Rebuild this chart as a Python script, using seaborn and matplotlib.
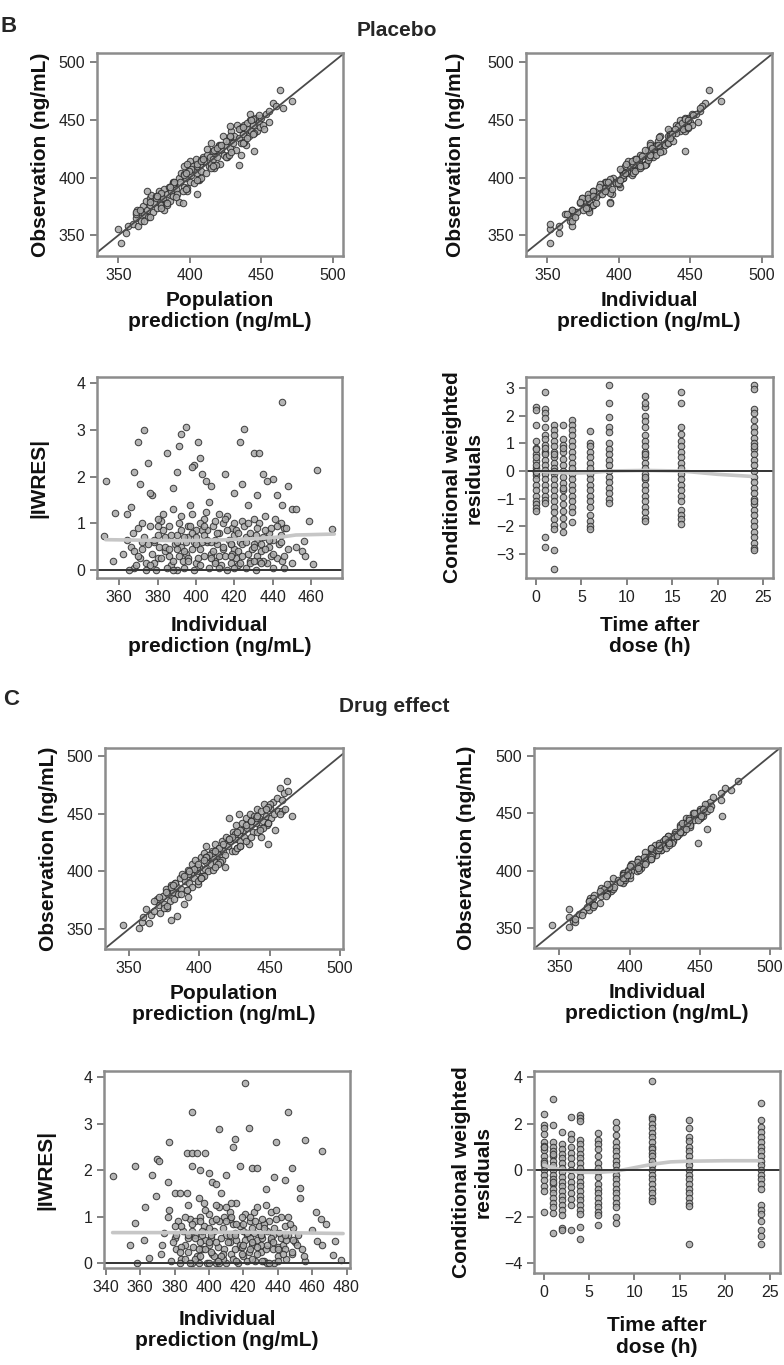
import pandas as pd
import numpy as np
import matplotlib
matplotlib.use("Agg")
import matplotlib.pyplot as plt
import seaborn as sns

# ---------------- Placebo: observation vs predictions ----------------
pl_obs = [355, 343, 352, 358, 360, 365, 372, 358, 370, 362,
          375, 368, 380, 372, 366, 382, 376, 385, 370, 378,
          384, 374, 388, 380, 376, 386, 382, 390, 378, 386,
          392, 380, 388, 396, 384, 394, 390, 386, 379, 400,
          396, 404, 378, 392, 410, 400, 388, 406, 396, 414,
          402, 410, 395, 416, 404, 410, 398, 412, 406, 418,
          414, 404, 420, 410, 418, 412, 430, 416, 408, 424,
          418, 428, 412, 424, 436, 420, 428, 418, 432, 426,
          440, 430, 436, 424, 446, 411, 434, 442, 430, 438,
          446, 428, 442, 436, 450, 440, 446, 423, 452, 440,
          448, 444, 452, 446, 442, 455, 458, 465, 462, 476,
          460, 466, 445, 425, 412, 372, 388, 455, 420, 386,
          362, 368, 374, 379, 383, 387, 391, 395, 399, 403,
          407, 411, 415, 419, 423, 427, 431, 435, 439, 443,
          447, 451, 370, 376, 382, 388, 394, 400, 406, 412,
          418, 424, 430, 436, 442, 448, 454, 366, 372, 378,
          384, 390, 396, 402, 408, 414, 420, 426, 432, 438,
          444, 450, 392, 398, 404, 410, 416, 422, 428, 434]
pl_pred = [350, 352, 355, 357, 360, 362, 363, 364, 365, 366,
           367, 368, 369, 370, 371, 372, 372, 373, 374, 375,
           376, 377, 378, 379, 380, 380, 381, 382, 383, 384,
           385, 386, 387, 388, 388, 389, 390, 391, 392, 392,
           393, 394, 395, 396, 396, 397, 398, 399, 400, 400,
           401, 402, 403, 404, 405, 405, 406, 407, 408, 409,
           410, 411, 412, 413, 414, 415, 415, 416, 417, 418,
           419, 420, 421, 422, 423, 424, 425, 426, 427, 428,
           429, 430, 431, 432, 433, 434, 434, 435, 436, 437,
           438, 439, 440, 441, 442, 443, 444, 445, 446, 447,
           448, 449, 450, 451, 452, 453, 455, 458, 460, 463,
           465, 471, 428, 412, 398, 382, 370, 442, 436, 405,
           368, 362, 380, 372, 390, 380, 398, 388, 406, 396,
           401, 418, 408, 426, 416, 420, 438, 428, 445, 436,
           440, 444, 362, 384, 376, 395, 388, 408, 399, 405,
           425, 417, 437, 428, 434, 455, 448, 372, 365, 384,
           377, 397, 389, 396, 415, 408, 427, 419, 425, 444,
           437, 443, 386, 405, 397, 416, 409, 429, 422, 440]
pl_ipred = [352, 352, 358, 358, 352, 367, 367, 367, 369, 366,
            379, 362, 377, 379, 366, 374, 378, 380, 379, 377,
            383, 378, 382, 377, 382, 386, 374, 392, 373, 395,
            401, 379, 392, 390, 381, 400, 390, 378, 394, 396,
            391, 406, 394, 392, 404, 403, 394, 402, 397, 406,
            409, 408, 398, 411, 404, 416, 400, 405, 410, 415,
            414, 410, 415, 413, 420, 419, 422, 414, 413, 420,
            422, 422, 419, 425, 429, 423, 426, 424, 427, 428,
            436, 433, 435, 429, 440, 418, 436, 434, 434, 436,
            447, 432, 447, 434, 443, 443, 448, 446, 448, 446,
            450, 441, 446, 451, 445, 451, 457, 460, 458, 463,
            457, 471, 441, 429, 414, 375, 382, 454, 426, 388,
            367, 364, 377, 373, 384, 394, 389, 399, 394, 403,
            401, 413, 420, 416, 431, 426, 434, 428, 440, 448,
            444, 446, 371, 382, 378, 390, 387, 403, 411, 410,
            421, 418, 434, 436, 439, 455, 452, 369, 367, 384,
            382, 395, 392, 403, 415, 409, 422, 423, 438, 437,
            448, 448, 386, 401, 404, 415, 412, 429, 427, 436]

# ---------------- Placebo: |IWRES| vs individual prediction ----------------
pl_iw_x = [353, 352, 358, 357, 368, 370, 373, 375, 377, 376, 371, 395, 392, 391, 385, 401, 402,
           399, 398, 403, 423, 425, 430, 433, 445, 463, 459, 461, 471, 435, 415, 448, 450, 452,
           440, 442, 445, 456, 455, 388, 390, 405, 408, 420, 424, 427, 432, 437, 366, 364,
           362, 366, 370, 374, 378, 382, 386, 390, 394, 398, 402, 406, 410, 414, 418, 422, 426,
           430, 434, 438, 442, 446, 450,
           364, 368, 372, 376, 380, 384, 388, 392, 396, 400, 404, 408, 412, 416, 420, 424, 428,
           432, 436, 440, 444, 448,
           367, 371, 375, 379, 383, 387, 391, 395, 399, 403, 407, 411, 415, 419, 423, 427, 431,
           435, 439, 443, 447,
           369, 373, 377, 381, 385, 389, 393, 397, 401, 405, 409, 413, 417, 421, 425, 429, 433,
           437, 441, 445,
           365, 372, 380, 386, 392, 398, 404, 410, 416, 422, 428, 434, 440, 446, 452, 457,
           378, 384, 390, 396, 402, 408, 414, 420, 426, 432, 438, 444, 394, 400, 406, 412, 418,
           424, 430, 436,
           383, 387, 391, 395, 399, 403, 407, 411, 415, 419, 423, 427, 431, 435, 439, 388, 397,
           409, 421, 433,
           368, 372, 376, 380, 384, 388, 392, 396, 400, 404, 408, 412, 416, 420, 424, 428, 432,
           436, 440, 444, 370, 378, 386, 394, 402, 410, 418, 426, 434, 442, 374, 382, 390, 398,
           406, 414, 422, 430, 438, 446, 380, 390, 400, 410, 420, 430, 396, 404, 412, 418]
pl_iw_y = [1.9, 0.72, 1.22, 0.2, 2.1, 2.75, 3.0, 2.3, 1.6, 1.65, 1.85, 3.05, 2.9, 2.65, 2.5, 2.75, 2.4,
           2.25, 2.2, 2.05, 2.75, 3.02, 2.5, 2.5, 3.6, 2.15, 1.05, 0.12, 0.87, 2.05, 2.05, 1.8, 1.3, 1.3,
           1.95, 1.6, 1.4, 0.62, 0.4, 1.75, 2.1, 1.9, 1.8, 1.65, 1.85, 1.4, 1.6, 1.9, 1.35, 1.2,
           0.35, 0.5, 0.9, 0.15, 0.6, 1.05, 0.3, 0.75, 0.05, 1.2, 0.45, 0.85, 0.2, 1.0, 0.55, 0.1, 0.7,
           1.1, 0.4, 0.8, 0.25, 0.9, 0.15,
           0.65, 0.05, 0.45, 0.95, 0.25, 0.7, 1.3, 0.5, 0.95, 0.15, 1.1, 0.35, 0.8, 0.0, 0.45, 1.05, 0.2,
           0.6, 1.15, 0.05, 0.75, 0.45,
           0.8, 0.25, 0.55, 0.0, 0.85, 0.1, 1.0, 0.35, 0.6, 0.85, 0.05, 0.55, 0.3, 0.9, 0.6, 0.35, 0.0,
           0.7, 0.3, 0.55, 0.9,
           0.1, 0.7, 0.35, 0.5, 0.05, 0.55, 0.2, 1.4, 0.25, 1.25, 0.95, 0.1, 0.65, 0.25, 0.95, 0.45, 1.0,
           0.15, 1.1, 0.2,
           0.0, 1.0, 0.75, 0.95, 1.15, 0.45, 0.3, 0.65, 1.15, 0.4, 0.8, 0.55, 0.65, 0.05, 0.5, 0.3,
           0.15, 0.4, 0.0, 0.7, 1.0, 0.25, 0.45, 0.75, 0.05, 0.3, 0.5, 1.0, 0.4, 0.85, 0.6, 1.2, 0.15,
           0.3, 0.55, 0.85,
           1.2, 0.75, 0.3, 0.6, 0.0, 0.6, 1.45, 0.8, 1.1, 0.35, 0.15, 1.0, 0.75, 0.2, 0.9, 0.2, 0.95,
           0.4, 0.85, 0.2,
           0.4, 0.6, 0.1, 0.95, 0.5, 0.0, 0.85, 0.25, 0.55, 0.75, 0.6, 0.3, 0.85, 0.05, 0.55, 0.15, 0.9,
           0.45, 0.35, 0.6, 0.3, 0.65, 0.45, 0.7, 0.1, 1.05, 0.3, 0.6, 0.15, 0.95, 0.0, 0.25, 0.45, 0.8,
           0.65, 0.5, 0.8, 0.2, 0.65, 0.3, 1.1, 0.6, 0.7, 0.15, 1.0, 0.5, 0.2, 0.95, 0.05, 0.55]
pl_iw_smooth_x = [353, 370, 390, 410, 430, 445, 452, 472]
pl_iw_smooth_y = [0.65, 0.64, 0.63, 0.64, 0.67, 0.71, 0.75, 0.77]

# ---------------- Placebo: CWRES vs time after dose ----------------
pl_cw_0h = [2.3, 2.2, 1.65, 1.1, 0.85, 0.6, 0.35, 0.1, 0.0, -0.15, -0.3, -0.5, -0.7, -0.9, -1.1,
            -1.2, -1.35, -1.45, 0.2, -0.05, 0.5, 0.8]
pl_cw_1h = [2.85, 2.25, 2.1, 1.9, 1.3, 1.15, 0.95, 0.7, 0.6, 0.4, 0.2, 0.05, -0.1, -0.3, -0.5,
            -0.7, -0.9, -1.05, -1.15, -2.4, -2.75, 0.85, 1.6]
pl_cw_2h = [1.65, 1.5, 1.3, 1.1, 0.9, 0.7, 0.5, 0.3, 0.1, -0.1, -0.3, -0.5, -0.7, -0.9, -1.1,
            -1.3, -1.5, -1.75, -1.95, -2.1, -2.85, -3.55, 0.0, 0.6]
pl_cw_3h = [1.65, 1.15, 0.95, 0.7, 0.45, 0.2, 0.0, -0.2, -0.45, -0.7, -0.95, -1.2, -1.45, -1.7,
            -1.95, -2.2, 0.85, -0.6]
pl_cw_4h = [1.85, 1.65, 1.5, 1.3, 1.1, 0.9, 0.7, 0.5, 0.3, 0.1, -0.1, -0.3, -0.5, -0.7, -0.9,
            -1.1, -1.3, -1.5, -1.85]
pl_cw_6h = [1.45, 1.0, 0.9, 0.7, 0.5, 0.3, 0.1, -0.1, -0.3, -0.5, -0.7, -0.9, -1.1, -1.3, -1.6,
            -1.8, -2.0, -2.1]
pl_cw_8h = [3.1, 2.45, 1.95, 1.6, 1.4, 1.0, 0.8, 0.6, 0.4, 0.2, 0.0, -0.2, -0.4, -0.6, -0.8,
            -1.0, -1.15]
pl_cw_12h = [2.7, 2.3, 2.0, 1.8, 1.6, 1.3, 1.1, 0.9, 0.7, 0.5, 0.3, 0.1, -0.1, -0.3, -0.5, -0.7,
             -0.9, -1.1, -1.3, -1.5, -1.7, -1.8, 2.45, 0.6, -0.2]
pl_cw_16h = [2.85, 2.45, 1.6, 1.35, 1.1, 0.9, 0.7, 0.5, 0.3, 0.1, -0.1, -0.3, -0.5, -0.7, -0.9,
             -1.1, -1.4, -1.6, -1.75, -1.9]
pl_cw_24h = [3.1, 2.95, 2.25, 2.1, 1.85, 1.6, 1.4, 1.2, 1.0, 0.8, 0.6, 0.4, 0.2, 0.0, -0.2, -0.4,
             -0.6, -0.8, -1.0, -1.2, -1.4, -1.6, -1.8, -2.0, -2.2, -2.4, -2.6, -2.8, -2.85, 0.9, -1.1]
pl_cw_smooth_x = [0, 2, 4, 6, 8, 12, 16, 20, 24]
pl_cw_smooth_y = [0.0, -0.05, -0.08, -0.06, 0.0, 0.02, 0.0, -0.12, -0.2]

# ---------------- Drug effect: observation vs predictions ----------------
dr_obs = [353, 351, 356, 360, 367, 355, 362, 366, 376, 371,
          364, 379, 372, 385, 368, 380, 374, 358, 388, 382,
          376, 390, 361, 386, 380, 394, 385, 398, 372, 392,
          384, 401, 390, 398, 386, 406, 394, 410, 400, 389,
          404, 412, 396, 416, 402, 408, 422, 400, 412, 406,
          418, 401, 412, 424, 408, 416, 420, 410, 426, 418,
          414, 430, 422, 446, 426, 418, 434, 428, 440, 420,
          432, 426, 442, 436, 430, 446, 438, 424, 450, 440,
          434, 448, 442, 454, 446, 438, 452, 444, 458, 448,
          440, 424, 455, 446, 460, 450, 436, 464, 452, 472,
          462, 468, 478, 470, 448, 404, 396, 378, 450, 430,
          368, 374, 380, 386, 392, 398, 404, 410, 416, 422,
          428, 434, 440, 446, 452, 458, 378, 384, 390, 396,
          402, 408, 414, 420, 426, 432, 438, 444, 450, 456,
          388, 394, 400, 406, 412, 418, 424, 430, 436, 442,
          448, 454, 370, 382, 394, 406, 418, 430, 442, 454,
          396, 404, 412, 420, 428, 436, 444, 410, 422, 434]
dr_pred = [346, 357, 359, 360, 362, 364, 366, 368, 370, 371,
           372, 374, 375, 376, 377, 378, 379, 380, 380, 381,
           382, 383, 384, 384, 385, 386, 387, 388, 389, 390,
           391, 392, 393, 394, 395, 395, 396, 397, 398, 399,
           400, 401, 402, 403, 404, 405, 405, 406, 407, 408,
           409, 410, 410, 411, 412, 413, 414, 415, 416, 417,
           418, 419, 420, 421, 422, 423, 424, 425, 426, 427,
           428, 429, 430, 431, 432, 433, 434, 435, 436, 437,
           438, 439, 440, 441, 442, 443, 444, 445, 446, 447,
           448, 449, 450, 451, 452, 453, 454, 455, 456, 457,
           459, 460, 462, 463, 466, 418, 402, 392, 428, 444,
           375, 368, 387, 380, 399, 392, 398, 416, 409, 429,
           421, 441, 433, 440, 459, 450, 371, 391, 383, 403,
           396, 415, 407, 414, 433, 425, 445, 437, 457, 449,
           381, 401, 393, 413, 405, 425, 417, 437, 429, 449,
           441, 461, 377, 376, 401, 399, 411, 423, 449, 447,
           389, 411, 405, 427, 421, 443, 437, 403, 429, 427]
dr_ipred = [345, 357, 360, 357, 357, 361, 364, 371, 372, 372,
            367, 375, 373, 380, 374, 382, 371, 361, 386, 387,
            374, 393, 366, 385, 384, 388, 387, 395, 379, 392,
            388, 399, 395, 398, 389, 401, 400, 406, 401, 395,
            401, 414, 400, 411, 408, 409, 418, 405, 412, 409,
            417, 407, 415, 421, 412, 416, 415, 415, 424, 422,
            419, 427, 423, 440, 428, 422, 432, 431, 436, 426,
            432, 431, 439, 438, 434, 442, 439, 430, 445, 443,
            438, 446, 443, 450, 449, 443, 450, 446, 455, 452,
            443, 449, 453, 450, 457, 452, 455, 459, 455, 468,
            465, 465, 477, 472, 466, 406, 395, 380, 447, 431,
            370, 371, 384, 385, 397, 396, 407, 406, 417, 428,
            425, 436, 439, 450, 450, 454, 383, 382, 393, 395,
            406, 405, 416, 415, 427, 435, 436, 449, 446, 458,
            384, 397, 399, 411, 410, 419, 428, 427, 438, 437,
            451, 452, 375, 379, 395, 402, 420, 434, 441, 457,
            398, 400, 415, 421, 425, 440, 442, 415, 421, 436]

# ---------------- Drug effect: |IWRES| vs individual prediction ----------------
dr_iw_x = [344, 354, 357, 357, 358, 362, 363, 365, 367, 370, 371, 369, 373, 377, 376, 390, 406,
           415, 414, 421, 423, 446, 439, 456, 466, 462, 465, 468, 472, 473, 477, 448, 453, 453,
           460, 463, 466, 387, 390, 393, 398, 390, 380, 383, 395, 402, 410, 418, 425, 428, 433,
           438, 444, 400, 404,
           372, 376, 380, 384, 388, 392, 396, 400, 404, 408, 412, 416, 420, 424, 428, 432, 436,
           440, 444, 448, 452, 456,
           374, 378, 382, 386, 390, 394, 398, 402, 406, 410, 414, 418, 422, 426, 430, 434, 438,
           442, 446, 450, 454,
           377, 381, 385, 389, 393, 397, 401, 405, 409, 413, 417, 421, 425, 429, 433, 437, 441,
           445, 449,
           379, 383, 387, 391, 395, 399, 403, 407, 411, 415, 419, 423, 427, 431, 435, 439, 443, 447,
           384, 388, 392, 396, 400, 404, 408, 412, 416, 420, 424, 428, 432, 436, 440, 444, 388,
           394, 400, 406,
           386, 390, 394, 398, 402, 406, 410, 414, 418, 422, 426, 430, 434, 438, 442, 446, 412,
           418, 424, 430,
           381, 395, 397, 403, 409, 415, 421, 427, 433, 439, 445, 451, 455, 401, 407, 413, 419,
           425, 431, 437,
           380, 384, 388, 392, 396, 400, 404, 408, 412, 416, 420, 424, 428, 432, 436, 440, 444,
           448, 383, 389, 395, 401, 407, 413, 419, 425, 431, 437, 443, 449, 386, 392, 398, 404,
           410, 416, 422, 428, 434, 440, 390, 400, 410, 420, 430, 395, 405, 415, 425, 435]
dr_iw_y = [1.88, 0.4, 0.87, 2.1, 0.0, 0.5, 1.22, 0.12, 1.9, 2.25, 2.2, 1.45, 0.4, 2.6, 1.75, 3.25,
           2.88, 2.68, 2.5, 3.88, 2.9, 3.25, 2.6, 2.65, 2.42, 1.1, 0.95, 0.85, 0.18, 0.47, 0.07, 2.05,
           1.62, 1.4, 0.72, 0.48, 0.4, 2.38, 2.38, 2.38, 2.38, 2.1, 1.5, 1.5, 2.0, 1.75, 1.9, 2.1, 2.05,
           2.05, 1.6, 1.85, 1.8, 1.95, 1.7,
           0.2, 1.0, 0.55, 0.1, 1.25, 0.6, 0.3, 1.05, 0.0, 0.75, 0.45, 1.3, 0.15, 0.9, 0.5, 0.05, 1.1,
           0.35, 0.8, 0.2, 0.6, 0.05,
           0.65, 0.05, 0.9, 0.4, 0.0, 1.4, 0.5, 0.2, 1.2, 0.0, 0.85, 0.35, 0.6, 1.1, 0.25, 0.7, 0.0,
           0.55, 1.0, 0.45, 0.3,
           1.15, 0.3, 0.7, 0.95, 0.15, 0.8, 0.55, 0.35, 1.0, 0.2, 0.0, 1.05, 0.4, 0.8, 1.25, 0.3, 0.65,
           0.1, 0.75,
           0.45, 0.0, 1.5, 0.35, 1.0, 0.0, 0.7, 1.5, 0.45, 0.65, 1.0, 0.25, 0.05, 0.55, 0.9, 1.15, 0.4,
           0.85,
           0.8, 0.25, 0.9, 0.6, 0.4, 1.25, 0.1, 0.95, 0.5, 0.7, 0.3, 1.2, 0.85, 0.5, 0.15, 0.3, 0.55,
           0.0, 0.75, 0.9,
           0.1, 0.7, 0.3, 1.15, 0.9, 0.0, 0.6, 0.1, 0.8, 0.05, 0.65, 0.4, 0.0, 0.75, 1.0, 0.6, 1.1,
           0.4, 1.0, 0.6,
           0.6, 0.45, 1.3, 0.15, 0.3, 0.3, 0.5, 0.9, 0.3, 0.95, 0.5, 0.4, 0.15, 0.25, 0.55, 1.3, 0.2,
           0.75, 0.05, 0.6,
           0.8, 0.35, 0.6, 0.1, 0.7, 0.45, 0.95, 0.2, 0.6, 0.05, 0.85, 0.55, 0.35, 0.75, 0.55, 0.05, 0.6,
           0.25, 0.25, 0.0, 0.9, 0.6, 0.15, 1.0, 0.35, 0.1, 0.95, 0.45, 0.2, 0.5, 1.0, 0.55, 0.3, 0.45,
           1.2, 0.85, 0.65, 0.2, 0.4, 0.3, 0.85, 0.0, 0.9, 0.4, 0.6, 0.15, 0.05, 0.6, 0.45, 0.0]
dr_iw_smooth_x = [344, 380, 420, 460, 478]
dr_iw_smooth_y = [0.66, 0.66, 0.67, 0.65, 0.64]

# ---------------- Drug effect: CWRES vs time after dose ----------------
dr_cw_0h = [2.4, 1.95, 1.8, 1.55, 1.2, 1.05, 0.85, 0.6, 0.4, 0.2, 0.0, -0.2, -0.45, -0.7, -0.9,
            -1.8, 0.3, 1.0]
dr_cw_1h = [3.05, 1.95, 1.2, 1.0, 0.8, 0.6, 0.4, 0.2, 0.0, -0.2, -0.4, -0.6, -0.8, -1.0, -1.2,
            -1.4, -1.6, -1.85, -2.7, 0.7, -0.5]
dr_cw_2h = [1.65, 1.1, 0.9, 0.7, 0.5, 0.3, 0.1, -0.1, -0.3, -0.5, -0.7, -0.9, -1.1, -1.3, -1.5,
            -1.7, -1.95, -2.5, -2.6]
dr_cw_3h = [2.3, 1.55, 1.35, 1.0, 0.75, 0.5, 0.25, 0.0, -0.25, -0.5, -0.75, -1.0, -1.25, -1.5, -2.6]
dr_cw_4h = [2.35, 2.25, 2.1, 1.3, 1.1, 0.9, 0.7, 0.5, 0.3, 0.1, -0.1, -0.3, -0.5, -0.7, -0.9,
            -1.1, -1.3, -1.5, -1.7, -1.9, -2.45, -2.95]
dr_cw_6h = [1.6, 1.3, 1.1, 0.9, 0.6, 0.3, 0.1, -0.1, -0.3, -0.6, -0.8, -1.0, -1.2, -1.4, -1.6,
            -1.8, -1.95, -2.35]
dr_cw_8h = [2.05, 1.8, 1.5, 1.2, 1.0, 0.8, 0.6, 0.4, 0.2, 0.0, -0.2, -0.4, -0.6, -0.8, -1.0,
            -1.2, -1.4, -1.6, -2.0, -2.3]
dr_cw_12h = [3.85, 2.3, 2.2, 2.0, 1.8, 1.6, 1.4, 1.2, 1.0, 0.9, 0.75, 0.6, 0.4, 0.2, 0.0, -0.2,
             -0.4, -0.6, -0.8, -1.0, -1.2, -1.35]
dr_cw_16h = [2.15, 1.8, 1.4, 1.25, 1.0, 0.8, 0.6, 0.4, 0.2, 0.0, -0.2, -0.4, -0.6, -0.8, -1.0,
             -1.2, -1.4, -1.55, -3.2]
dr_cw_24h = [2.9, 2.15, 1.85, 1.65, 1.4, 1.2, 1.0, 0.8, 0.6, 0.4, 0.2, 0.0, -0.2, -0.4, -0.6,
             -0.8, -1.5, -1.7, -1.9, -2.2, -2.6, -2.85, -3.2]
dr_cw_smooth_x = [0, 1, 2, 4, 6, 8, 10, 12, 14, 16, 20, 24]
dr_cw_smooth_y = [0.2, 0.1, 0.0, -0.1, -0.1, -0.05, 0.1, 0.25, 0.35, 0.38, 0.4, 0.4]

times = [0, 1, 2, 3, 4, 6, 8, 12, 16, 24]
pl_cw = [pl_cw_0h, pl_cw_1h, pl_cw_2h, pl_cw_3h, pl_cw_4h, pl_cw_6h, pl_cw_8h, pl_cw_12h,
         pl_cw_16h, pl_cw_24h]
dr_cw = [dr_cw_0h, dr_cw_1h, dr_cw_2h, dr_cw_3h, dr_cw_4h, dr_cw_6h, dr_cw_8h, dr_cw_12h,
         dr_cw_16h, dr_cw_24h]


def cw_frame(groups):
    rows = [(t, v) for t, vals in zip(times, groups) for v in vals]
    return pd.DataFrame(rows, columns=["time", "cwres"])


sns.set_theme(style="white")
plt.rcParams['font.family'] = ['Liberation Sans', 'DejaVu Sans']

W, H = 784, 1365
fig = plt.figure(figsize=(W / 100, H / 100), dpi=100)


def make_ax(left, top, right, bottom):
    return fig.add_axes([left / W, 1 - bottom / H, (right - left) / W, (bottom - top) / H])


PT = dict(s=22, color="#a8a8a8", edgecolor="#2a2a2a", linewidth=0.75, alpha=0.85, legend=False)
SMOOTH = dict(color="#c6c6c6", linewidth=2.6)
LABEL = dict(fontsize=15, fontweight="bold", color="#111111")


def style(ax, xlim, ylim, xticks, yticks, xlabel, ylabel, xpad, ypad):
    ax.set_xlim(xlim)
    ax.set_ylim(ylim)
    ax.set_xticks(xticks)
    ax.set_yticks(yticks)
    ax.set_yticklabels([str(t).replace("-", "\u2212") for t in yticks])
    for sp in ax.spines.values():
        sp.set_color("#8c8c8c")
        sp.set_linewidth(1.8)
    ax.tick_params(direction="out", length=5, width=1.3, color="#777777",
                   labelsize=11.5, labelcolor="#222222", bottom=True, left=True)
    ax.set_xlabel(xlabel, labelpad=xpad, linespacing=1.15, **LABEL)
    ax.set_ylabel(ylabel, labelpad=ypad, linespacing=1.15, **LABEL)


def obs_panel(ax, x, y, xlim, ylim, xlabel, ypad):
    sns.scatterplot(x=x, y=y, ax=ax, **PT)
    ax.axline((400, 400), slope=1, color="#4a4a4a", linewidth=1.3)
    style(ax, xlim, ylim, [350, 400, 450, 500], [350, 400, 450, 500],
          xlabel, "Observation (ng/mL)", 6, ypad)


def iwres_panel(ax, x, y, sx, sy, xlim, xticks, xpad, ypad):
    sns.scatterplot(x=x, y=y, ax=ax, **PT)
    sns.lineplot(x=sx, y=sy, ax=ax, **SMOOTH)
    ax.axhline(0, color="#333333", linewidth=1.4)
    style(ax, xlim, (-0.17, 4.13), xticks, [0, 1, 2, 3, 4],
          xlabel="Individual\nprediction (ng/mL)", ylabel="|IWRES|", xpad=xpad, ypad=ypad)


def cwres_panel(ax, groups, sx, sy, ylim, yticks, xpad, ypad):
    df = cw_frame(groups)
    sns.scatterplot(data=df, x="time", y="cwres", ax=ax, **PT)
    sns.lineplot(x=sx, y=sy, ax=ax, **SMOOTH)
    ax.axhline(0, color="#333333", linewidth=1.4)
    style(ax, (-1.1, 26.1), ylim, [0, 5, 10, 15, 20, 25], yticks,
          "Time after\ndose (h)", "Conditional weighted\nresiduals", xpad, ypad)


# ---- B: Placebo ----
fig.text(0.0, 1 - 27 / H, "B", fontsize=16, fontweight="bold", va="center", ha="left")
fig.text(397 / W, 1 - 30 / H, "Placebo", fontsize=15, fontweight="bold", va="center", ha="center")

ax1 = make_ax(97, 53, 343, 256)
obs_panel(ax1, pl_pred, pl_obs, (335, 507), (332, 508), "Population\nprediction (ng/mL)", 6)
ax2 = make_ax(526, 53, 772, 256)
obs_panel(ax2, pl_ipred, pl_obs, (335, 507), (332, 508), "Individual\nprediction (ng/mL)", 16)

ax3 = make_ax(97, 377, 342, 578)
iwres_panel(ax3, pl_iw_x, pl_iw_y, pl_iw_smooth_x, pl_iw_smooth_y, (348.5, 476),
            [360, 380, 400, 420, 440, 460], 8, 20)
ax4 = make_ax(526, 377, 773, 578)
cwres_panel(ax4, pl_cw, pl_cw_smooth_x, pl_cw_smooth_y, (-3.87, 3.4), [-3, -2, -1, 0, 1, 2, 3], 8, 9)

# ---- C: Drug effect ----
fig.text(0.004, 1 - 700 / H, "C", fontsize=16, fontweight="bold", va="center", ha="left")
fig.text(394 / W, 1 - 706 / H, "Drug effect", fontsize=15, fontweight="bold", va="center", ha="center")

ax5 = make_ax(105, 748, 343, 949)
obs_panel(ax5, dr_pred, dr_obs, (333, 502), (332.6, 507), "Population\nprediction (ng/mL)", 6)
ax6 = make_ax(534, 748, 780, 948)
obs_panel(ax6, dr_ipred, dr_obs, (332, 507), (332.6, 507), "Individual\nprediction (ng/mL)", 14)

ax7 = make_ax(104, 1071, 350, 1268)
iwres_panel(ax7, dr_iw_x, dr_iw_y, dr_iw_smooth_x, dr_iw_smooth_y, (339, 482),
            [340, 360, 380, 400, 420, 440, 460, 480], 11, 20)
ax7.set_ylim(-0.1, 4.13)
ax8 = make_ax(534, 1071, 780, 1273)
cwres_panel(ax8, dr_cw, dr_cw_smooth_x, dr_cw_smooth_y, (-4.43, 4.26), [-4, -2, 0, 2, 4], 12, 8)

fig.savefig("out.png", dpi=100)
